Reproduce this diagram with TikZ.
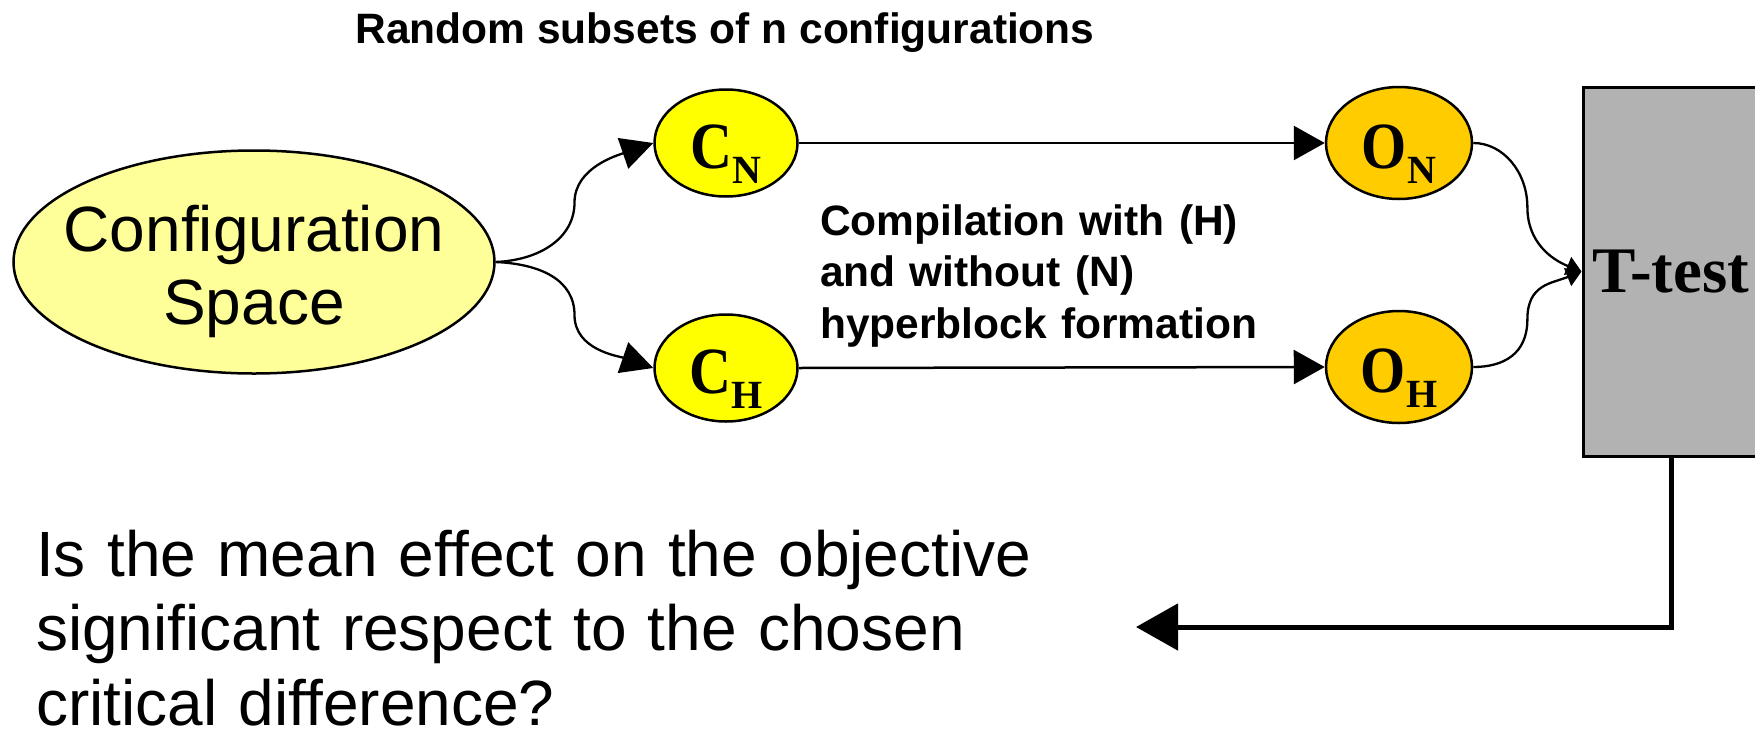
\documentclass[tikz,border=0pt]{standalone}
\usepackage{fontspec}
\usepackage{graphicx}
\setmainfont{Liberation Sans}
\newfontfamily\tnr{Liberation Serif}
\usetikzlibrary{arrows.meta,shapes.geometric,calc}
\definecolor{paleyellow}{HTML}{FFFF99}
\definecolor{cyel}{HTML}{FFFF00}
\definecolor{oorange}{HTML}{FFCC00}
\definecolor{tgray}{HTML}{B2B2B2}
\newcommand{\lbl}[2]{{\tnr\bfseries\fontsize{66}{66}\selectfont\scalebox{0.88}[1]{#1}}{\tnr\bfseries\fontsize{40}{40}\selectfont\raisebox{-15pt}{#2}}}
\begin{document}
\begin{tikzpicture}[x=1pt,y=-1pt,
  cnode/.style={ellipse,draw,line width=2.5pt,fill=cyel,minimum width=143pt,minimum height=107pt,inner sep=0pt,text height=50pt,text depth=0pt},
  onode/.style={cnode,fill=oorange,minimum width=146pt,minimum height=112pt},
  hline/.style={line width=2.5pt,-{Triangle[length=31pt,width=34pt]}},
  curvein/.style={line width=2.3pt,-{Triangle[length=32pt,width=32pt]}},
  curveout/.style={line width=2.3pt,-{Triangle[length=15pt,width=19pt]}},
  sanslbl/.style={font=\bfseries\fontsize{42.5}{51.5}\selectfont,inner sep=0pt}]
\path[use as bounding box] (0,0) rectangle (1755,731);
\clip (0,0) rectangle (1755,731);

\node[ellipse,draw,line width=2.5pt,fill=paleyellow,minimum width=481pt,minimum height=223pt,inner sep=0pt,align=center,font=\fontsize{64}{73}\selectfont] (cs) at (254,262) {\makebox[0pt]{\rule{0pt}{65pt}Configuration}\\\makebox[0pt]{Space}};

\node[cnode] (cn) at (726,143) {\lbl{C}{N}};
\node[cnode] (ch) at (726,368) {\lbl{C}{H}};
\node[onode] (on) at (1399,143) {\lbl{O}{N}};
\node[onode] (oh) at (1399,367) {\lbl{O}{H}};

\node[rectangle,draw,line width=3pt,fill=tgray,minimum width=176pt,minimum height=369pt,inner sep=0pt,font=\tnr\bfseries\fontsize{65}{65}\selectfont] (tt) at (1671,271.5) {T-test};

\node[sanslbl,anchor=base] (title) at (725,43) {Random subsets of n configurations};
\node[sanslbl,anchor=base west,text width=500pt,align=left] (comp) at (820,235) {Compilation with (H)\\and without (N)\\hyperblock formation};
\node[anchor=base west,inner sep=0pt,text width=1000pt,align=left,font=\fontsize{64}{74.5}\selectfont] (q) at (36,576) {Is the mean effect on the objective\\significant respect to the chosen\\critical difference?};

\draw[curvein] (cs.east) .. controls +(45,-2) and +(0,35) .. ($(cs.east)!.5!(cn.west)$) .. controls +(0,-35) and +(-35,12) .. (cn.west);
\draw[curvein] (cs.east) .. controls +(45,2) and +(0,-35) .. ($(cs.east)!.5!(ch.west)$) .. controls +(0,35) and +(-35,-12) .. (ch.west);
\draw[hline] (cn.east) -- (on.west);
\draw[hline] (ch.east) -- (oh.west);
\draw[curveout] (on.east) .. controls +(30,0) and +(0,-35) .. ($(on.east)!.5!(tt.west)$) .. controls +(0,35) and +(-30,-12) .. (tt.west);
\draw[curveout] (oh.east) .. controls +(30,0) and +(0,35) .. ($(oh.east)!.5!(tt.west)$) .. controls +(0,-35) and +(-30,12) .. (tt.west);

\coordinate (ret) at (1136,627);
\draw[line width=5pt,-{Triangle[length=42pt,width=46pt]}] (tt.south) |- (ret);
\end{tikzpicture}
\end{document}
